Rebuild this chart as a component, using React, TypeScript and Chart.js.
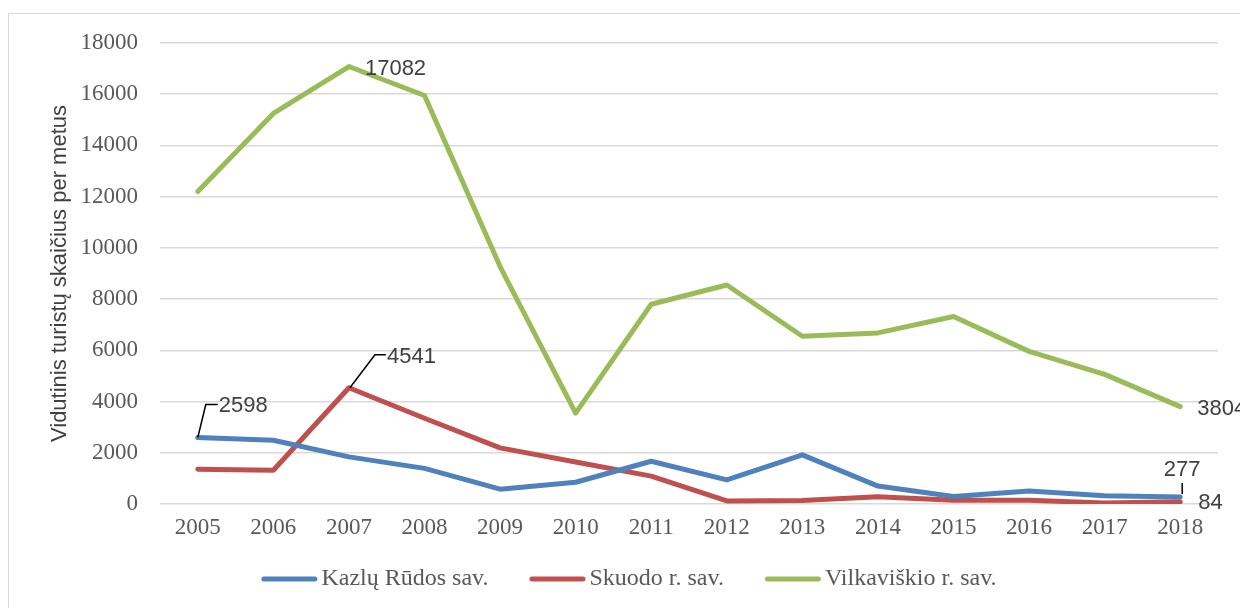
import React, { useEffect, useRef } from "react";
import { Chart, registerables } from "chart.js";

Chart.register(...registerables);

const years = ["2005", "2006", "2007", "2008", "2009", "2010", "2011", "2012", "2013", "2014", "2015", "2016", "2017", "2018"];
const kazluRudos = [2598, 2490, 1840, 1390, 580, 850, 1670, 940, 1920, 700, 290, 510, 320, 277];
const skuodo = [1360, 1320, 4541, 3350, 2190, 1640, 1090, 120, 140, 280, 150, 150, 40, 84];
const vilkaviskio = [12200, 15250, 17082, 15950, 9270, 3550, 7800, 8550, 6550, 6680, 7320, 5960, 5060, 3804];
const seriesNames = ["Kazlų Rūdos sav.", "Skuodo r. sav.", "Vilkaviškio r. sav."];
const seriesColors = ["#4f81bd", "#c0504d", "#9bbb59"];
const yMax = 18000;
const yStep = 2000;
const yTitle = "Vidutinis turistų skaičius per metus";

// data label placement (dataset index, point index, offsets relative to the point)
const labelSpecs = [
  { ds: 0, i: 0, dx: 21, dy: -32, align: "left", leader: [[0, 0], [8, -33], [20, -33]] },
  { ds: 1, i: 2, dx: 38, dy: -31, align: "left", leader: [[1, 0], [26, -33], [37, -33]] },
  { ds: 2, i: 2, dx: 16, dy: 2, align: "left", leader: null },
  { ds: 2, i: 13, dx: 17, dy: 2, align: "left", leader: null },
  { ds: 0, i: 13, dx: 2, dy: -27, align: "center", leader: [[2, -14], [2, -3]] },
  { ds: 1, i: 13, dx: 18, dy: 1, align: "left", leader: null },
];

const LABEL_FONT = "22px 'Liberation Sans', Arial, sans-serif";
const LEGEND_FONT = "24px 'Liberation Serif', 'Times New Roman', serif";

const dataLabelPlugin = {
  id: "customDataLabels",
  afterDatasetsDraw(chart: any) {
    const ctx = chart.ctx;
    ctx.save();
    ctx.font = LABEL_FONT;
    ctx.fillStyle = "#404040";
    ctx.textBaseline = "middle";
    for (const L of labelSpecs) {
      const pt = chart.getDatasetMeta(L.ds).data[L.i];
      const v = chart.data.datasets[L.ds].data[L.i];
      if (!pt) continue;
      if (L.leader) {
        ctx.beginPath();
        ctx.strokeStyle = "#000000";
        ctx.lineWidth = 1.5;
        L.leader.forEach((p: number[], k: number) => {
          if (k === 0) ctx.moveTo(pt.x + p[0], pt.y + p[1]);
          else ctx.lineTo(pt.x + p[0], pt.y + p[1]);
        });
        ctx.stroke();
      }
      ctx.textAlign = L.align;
      ctx.fillText(String(v), pt.x + L.dx, pt.y + L.dy);
    }
    ctx.restore();
  },
};

const legendPlugin = {
  id: "customLegend",
  afterDraw(chart: any) {
    const ctx = chart.ctx;
    ctx.save();
    ctx.font = LEGEND_FONT;
    const lineLen = 56;
    const gapText = 4;
    const gapItem = 41;
    const widths = seriesNames.map((n) => ctx.measureText(n).width);
    let total = 0;
    widths.forEach((w, k) => {
      total += lineLen + gapText + w + (k < widths.length - 1 ? gapItem : 0);
    });
    let x = chart.width / 2 - total / 2 + 1;
    const y = 565;
    seriesNames.forEach((n, k) => {
      ctx.beginPath();
      ctx.strokeStyle = seriesColors[k];
      ctx.lineWidth = 5;
      ctx.lineCap = "round";
      ctx.moveTo(x + 2.5, y);
      ctx.lineTo(x + lineLen - 2.5, y);
      ctx.stroke();
      ctx.fillStyle = "#595959";
      ctx.textAlign = "left";
      ctx.textBaseline = "middle";
      ctx.fillText(n, x + lineLen + gapText, y);
      x += lineLen + gapText + widths[k] + gapItem;
    });
    ctx.restore();
  },
};

export default function App() {
  const ref = useRef<HTMLCanvasElement | null>(null);
  useEffect(() => {
    if (!ref.current) return;
    const series = [kazluRudos, skuodo, vilkaviskio];
    const chart = new Chart(ref.current, {
      type: "line",
      data: {
        labels: years,
        datasets: series.map((d, k) => ({
          label: seriesNames[k],
          data: d,
          borderColor: seriesColors[k],
          backgroundColor: seriesColors[k],
          borderWidth: 5,
          pointRadius: 0,
          borderJoinStyle: "round",
          borderCapStyle: "round",
          tension: 0,
        })),
      },
      options: {
        responsive: false,
        animation: false,
        layout: { padding: { top: 29, right: 29, left: 0, bottom: 0 } },
        plugins: {
          legend: { display: false },
          tooltip: { enabled: false },
        },
        scales: {
          x: {
            offset: true,
            grid: { display: false, drawTicks: false },
            border: { display: false },
            ticks: {
              color: "#595959",
              font: { family: "'Liberation Serif', 'Times New Roman', serif", size: 23 },
              padding: 10,
              maxRotation: 0,
              autoSkip: false,
            },
            afterFit: (s: any) => {
              s.height = 108;
            },
          },
          y: {
            min: 0,
            max: yMax,
            grid: { color: "#d9d9d9", lineWidth: 1.5, drawTicks: false },
            border: { display: false },
            ticks: {
              stepSize: yStep,
              color: "#595959",
              font: { family: "'Liberation Serif', 'Times New Roman', serif", size: 23 },
              padding: 22,
              callback: (v: any) => String(v),
            },
            title: {
              display: true,
              text: yTitle,
              color: "#404040",
              font: { family: "'Liberation Sans', Arial, sans-serif", size: 22 },
              padding: { top: 38, bottom: 0 },
            },
            afterFit: (s: any) => {
              s.width = 151;
              s.paddingTop = 0;
              s.paddingBottom = 0;
            },
          },
        },
      },
      plugins: [dataLabelPlugin, legendPlugin],
    });
    return () => chart.destroy();
  }, []);

  return (
    <>
      <style>{"html, body { overflow: hidden; }"}</style>
      <div
        style={{
          position: "relative",
          top: 5,
          width: 1240,
          height: 600,
          border: "1px solid #d9d9d9",
          boxSizing: "border-box",
          background: "#ffffff",
        }}
      >
        <canvas ref={ref} width={1238} height={598} style={{ display: "block" }} />
      </div>
    </>
  );
}
